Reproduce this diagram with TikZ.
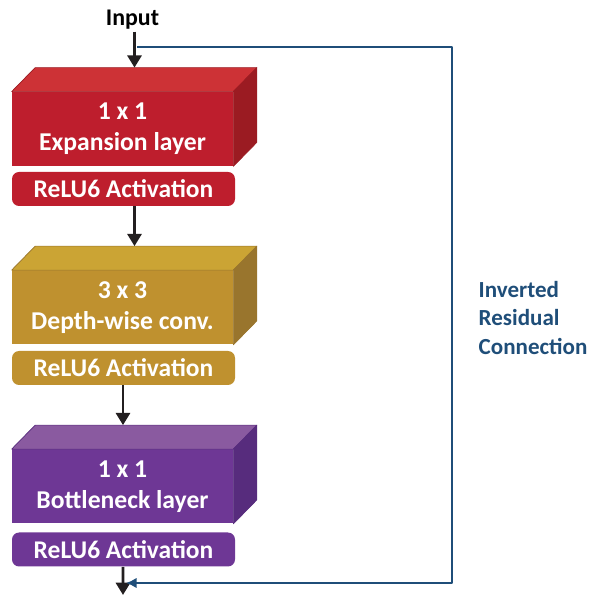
\documentclass[tikz,border=0pt]{standalone}
\usepackage{fontspec}
\setmainfont{Carlito}
\usetikzlibrary{calc,arrows.meta,positioning}

\definecolor{expfront}{HTML}{BE1E2D}
\definecolor{exptop}{HTML}{CD3236}
\definecolor{expside}{HTML}{9B1B22}
\definecolor{dwfront}{HTML}{BF912F}
\definecolor{dwtop}{HTML}{CBA434}
\definecolor{dwside}{HTML}{99752D}
\definecolor{bnfront}{HTML}{6E3795}
\definecolor{bntop}{HTML}{8A5AA0}
\definecolor{bnside}{HTML}{572C7D}
\definecolor{skipblue}{HTML}{1F4E79}
\definecolor{arrowblack}{HTML}{231F20}

\begin{document}
\begin{tikzpicture}[
  line join=round,
  >=Latex,
  layer/.style={minimum width=4.42cm,minimum height=1.48cm,inner sep=0pt,
    text=white,align=center,font=\fontsize{14.6}{17.5}\selectfont\bfseries},
  act/.style={rounded corners=4pt,minimum width=4.46cm,minimum height=0.68cm,
    inner sep=0pt,text=white,font=\fontsize{14.5}{16}\selectfont\bfseries},
  flow/.style={arrowblack,line width=1.7pt,-{Triangle[length=7pt,width=8pt]}},
  skip/.style={skipblue,line width=1.1pt,-{Latex[length=6pt,width=6pt]}}
]
\path[use as bounding box] (0,0) rectangle (11.78,11.9);

\node[font=\fontsize{13.6}{15}\selectfont\bfseries,inner sep=1pt] (input)
  at (2.65,11.5) {Input};

% front faces of the three layers
\node[layer,fill=expfront] (exp) at (2.45,9.32) {1 x 1\\Expansion layer};
\node[layer,fill=dwfront] (dw) at (2.45,5.75) {3 x 3\\Depth-wise conv.};
\node[layer,fill=bnfront] (bn) at (2.45,2.17) {1 x 1\\Bottleneck layer};

% top and side faces
\foreach \b in {exp,dw,bn}{
  \filldraw[fill=\b top,draw=\b side,line width=0.4pt]
    (\b.north west) -- ++(0.47,0.48) -- ($(\b.north east)+(0.47,0.48)$)
    -- (\b.north east) -- cycle;
  \filldraw[fill=\b side,draw=\b side,line width=0.4pt]
    (\b.north east) -- ++(0.47,0.48) -- ($(\b.south east)+(0.47,0.48)$)
    -- (\b.south east) -- cycle;
  \coordinate (\b-back) at ($(\b.north)+(0.24,0.48)$);
}

\node[act,fill=expfront] (relu1) at (2.47,8.12) {ReLU6 Activation};
\node[act,fill=dwfront] (relu2) at (2.47,4.54) {ReLU6 Activation};
\node[act,fill=bnfront] (relu3) at (2.47,0.91) {ReLU6 Activation};

\coordinate (out) at (2.46,0.0);

\draw[flow] (input.south -| exp-back) -- (exp-back);
\draw[flow] (relu1.south -| dw-back) -- (dw-back);
\draw[flow] ([xshift=-0.01cm]relu2.south) -- ([xshift=-0.01cm]relu2.south |- bn-back);
\draw[flow] ([xshift=-0.01cm]relu3.south) -- (out);

% residual path around the block
\coordinate (skiptop) at (2.74,10.96);
\coordinate (skipcorner) at (9.04,0.24);
\coordinate (skipend) at (2.52,0.24);
\draw[skip] (skiptop) -| (skipcorner) -- (skipend);

\node[anchor=west,align=left,text=skipblue,
  font=\fontsize{13.1}{16}\selectfont\bfseries] (skiplabel) at (9.45,5.54)
  {Inverted\\Residual\\Connection};
\end{tikzpicture}
\end{document}
